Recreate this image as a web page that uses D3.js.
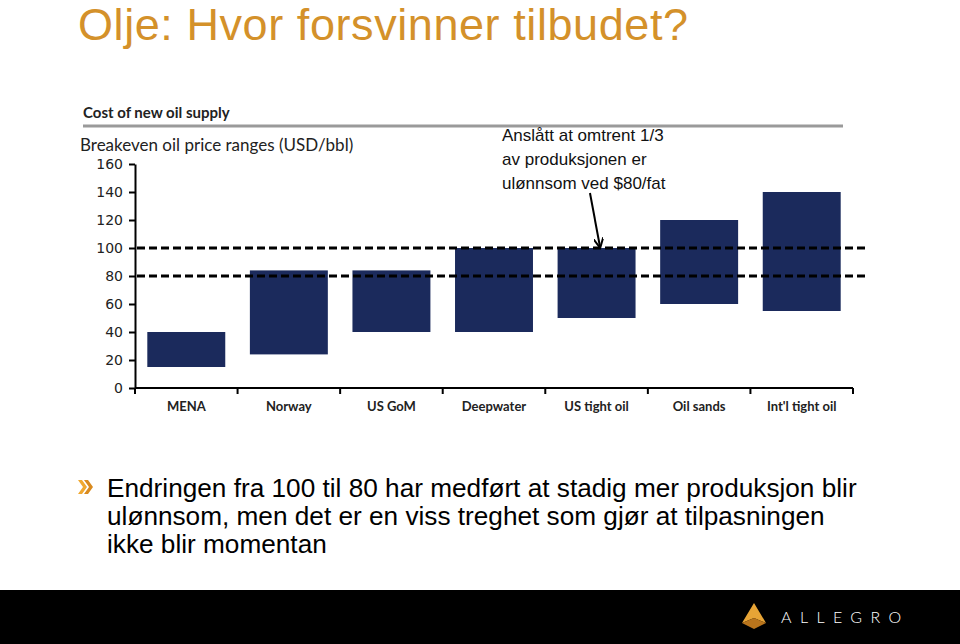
<!DOCTYPE html>
<html>
<head>
<meta charset="utf-8">
<script src="https://cdn.jsdelivr.net/npm/d3@7"></script>
<style>
  body { margin: 0; background: #fff; }
  svg { display: block; }
</style>
</head>
<body>
<div id="chart"></div>
<script>
// data
let categories = ["MENA", "Norway", "US GoM", "Deepwater", "US tight oil", "Oil sands", "Int'l tight oil"];
let lowValues  = [15, 24, 40, 40, 50, 60, 55];
let highValues = [40, 84, 84, 100, 100, 120, 140];
let yTicks = [0, 20, 40, 60, 80, 100, 120, 140, 160];
let thresholds = [80, 100];
let bulletLines = [
  "Endringen fra 100 til 80 har medført at stadig mer produksjon blir",
  "ulønnsom, men det er en viss treghet som gjør at tilpasningen",
  "ikke blir momentan"
];
let noteLines = ["Anslått at omtrent 1/3", "av produksjonen er", "ulønnsom ved $80/fat"];

let W = 960, H = 644;
let svg = d3.select("#chart").append("svg")
  .attr("width", W)
  .attr("height", H);

// title
svg.append("text")
  .attr("x", 78).attr("y", 40)
  .attr("font-family", "Liberation Sans, Arial, sans-serif")
  .attr("font-size", 45)
  .attr("textLength", 610)
  .attr("fill", "#D4912A")
  .text("Olje: Hvor forsvinner tilbudet?");

// chart header
svg.append("text")
  .attr("x", 83).attr("y", 118)
  .attr("font-family", "Lato, Open Sans, sans-serif")
  .attr("font-weight", "bold")
  .attr("font-size", 15)
  .attr("fill", "#222")
  .text("Cost of new oil supply");
svg.append("line")
  .attr("x1", 83).attr("x2", 843)
  .attr("y1", 126).attr("y2", 126)
  .attr("stroke", "#9a9a9a").attr("stroke-width", 3);
svg.append("text")
  .attr("x", 80).attr("y", 151)
  .attr("font-family", "Lato, Open Sans, sans-serif")
  .attr("font-size", 17)
  .attr("fill", "#222")
  .text("Breakeven oil price ranges (USD/bbl)");

// scales
let x = d3.scaleBand()
  .domain(categories)
  .range([135, 853])
  .paddingInner(0.24)
  .paddingOuter(0.12);

let y = d3.scaleLinear()
  .domain([0, 160])
  .range([388, 164]);

// y axis
let yAxis = svg.append("g")
  .attr("transform", "translate(135,0)")
  .call(d3.axisLeft(y).tickValues(yTicks).tickSize(6).tickSizeOuter(0));
yAxis.select(".domain").attr("stroke", "#000").attr("stroke-width", 2);
yAxis.selectAll(".tick line").attr("stroke", "#000").attr("stroke-width", 2);
yAxis.selectAll(".tick text")
  .attr("x", -12)
  .attr("font-family", "DejaVu Sans, Verdana, sans-serif")
  .attr("font-size", 14)
  .attr("fill", "#222");

// x axis with ticks at band boundaries
let step = x.step();
let xg = svg.append("g").attr("transform", "translate(0,388)");
xg.append("line")
  .attr("x1", 135).attr("x2", 853)
  .attr("stroke", "#000").attr("stroke-width", 2);
xg.selectAll(".xtick")
  .data(d3.range(categories.length + 1))
  .enter().append("line")
  .attr("x1", function(i) { return 135 + i * step; })
  .attr("x2", function(i) { return 135 + i * step; })
  .attr("y1", 0).attr("y2", 6)
  .attr("stroke", "#000").attr("stroke-width", 2);
xg.selectAll(".xlabel")
  .data(categories)
  .enter().append("text")
  .attr("x", function(d) { return x(d) + x.bandwidth() / 2; })
  .attr("y", 23)
  .attr("text-anchor", "middle")
  .attr("font-family", "Lato, Open Sans, sans-serif")
  .attr("font-weight", "bold")
  .attr("font-size", 13)
  .attr("fill", "#222")
  .text(function(d) { return d; });

// bars
svg.selectAll(".bar")
  .data(categories)
  .enter().append("rect")
  .attr("x", function(d) { return x(d); })
  .attr("y", function(d, i) { return y(highValues[i]); })
  .attr("width", x.bandwidth())
  .attr("height", function(d, i) { return y(lowValues[i]) - y(highValues[i]); })
  .attr("fill", "#1B2A5C");

// dashed threshold lines
svg.selectAll(".thr")
  .data(thresholds)
  .enter().append("line")
  .attr("x1", 137).attr("x2", 866)
  .attr("y1", function(d) { return y(d); })
  .attr("y2", function(d) { return y(d); })
  .attr("stroke", "#000")
  .attr("stroke-width", 3)
  .attr("stroke-dasharray", "8,4");

// annotation
svg.selectAll(".note")
  .data(noteLines)
  .enter().append("text")
  .attr("x", 502)
  .attr("y", function(d, i) { return 141 + i * 24; })
  .attr("font-family", "Liberation Sans, Arial, sans-serif")
  .attr("font-size", 17)
  .attr("fill", "#111")
  .text(function(d) { return d; });

svg.append("defs").append("marker")
  .attr("id", "arrow")
  .attr("viewBox", "0 0 10 10")
  .attr("refX", 9).attr("refY", 5)
  .attr("markerWidth", 5).attr("markerHeight", 5)
  .attr("orient", "auto")
  .append("path")
  .attr("d", "M0,0 L10,5 L0,10")
  .attr("fill", "none")
  .attr("stroke", "#000")
  .attr("stroke-width", 2);
svg.append("line")
  .attr("x1", 590).attr("y1", 193)
  .attr("x2", 600).attr("y2", y(100) - 1)
  .attr("stroke", "#000").attr("stroke-width", 2)
  .attr("marker-end", "url(#arrow)");

// bullet chevrons
let chev = svg.append("g").attr("transform", "translate(78,480)");
chev.append("path").attr("d", "M0,0 L4,0 L9,7 L4,14 L0,14 L5,7 Z").attr("fill", "#F0A830");
chev.append("path").attr("d", "M6,0 L10,0 L15,7 L10,14 L6,14 L11,7 Z").attr("fill", "#D98A1E");

svg.selectAll(".bullet")
  .data(bulletLines)
  .enter().append("text")
  .attr("x", 107)
  .attr("y", function(d, i) { return 497 + i * 28; })
  .attr("font-family", "Liberation Sans, Arial, sans-serif")
  .attr("font-size", 26.2)
  .attr("fill", "#000")
  .text(function(d) { return d; });

// footer
svg.append("rect")
  .attr("x", 0).attr("y", 590)
  .attr("width", W).attr("height", 54)
  .attr("fill", "#000");
let logo = svg.append("g").attr("transform", "translate(754,617)");
logo.append("path").attr("d", "M0,-14 L12,6 L0,1 L-12,6 Z").attr("fill", "#E7A436");
logo.append("path").attr("d", "M-12,6 L0,1 L12,6 L0,12 Z").attr("fill", "#B8741C");
svg.append("text")
  .attr("x", 781).attr("y", 623)
  .attr("font-family", "Lato, sans-serif")
  .attr("font-weight", 300)
  .attr("font-size", 16)
  .attr("letter-spacing", 8.4)
  .attr("fill", "#fff")
  .text("ALLEGRO");
</script>
</body>
</html>
